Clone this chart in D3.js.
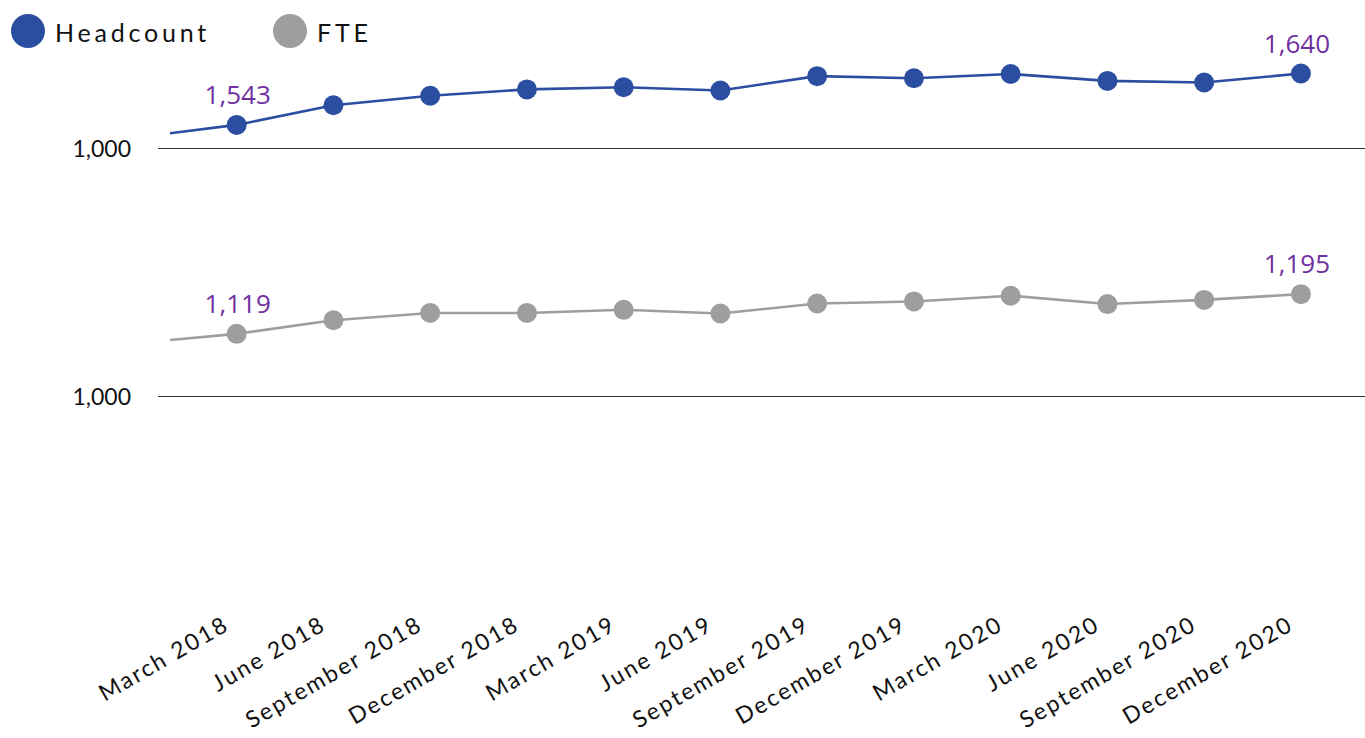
<!DOCTYPE html>
<html>
<head>
<meta charset="utf-8">
<script src="https://cdn.jsdelivr.net/npm/d3@7"></script>
<style>
  html, body { margin: 0; padding: 0; background: #fff; }
  svg { display: block; }
  .ui { font-family: "Lato", "Open Sans", sans-serif; fill: #111; }
  .val { font-family: "Open Sans", sans-serif; fill: #7030A0; }
</style>
</head>
<body>
<svg id="chart" width="1365" height="738"></svg>
<script>
// Quarter-end periods shown on the x axis
const categories = [
  "March 2018", "June 2018", "September 2018", "December 2018",
  "March 2019", "June 2019", "September 2019", "December 2019",
  "March 2020", "June 2020", "September 2020", "December 2020"
];

// Headcount per quarter, plus the quarter before the first one (line lead-in)
const headcountPrior = 1520;
const headcount = [1543, 1580, 1598, 1610, 1614, 1608, 1635, 1631, 1639, 1626, 1623, 1640];

// Full-time equivalents per quarter, plus the preceding quarter
const ftePrior = 1102;
const fte = [1119, 1145, 1159, 1159, 1165, 1158, 1177, 1181, 1192, 1176, 1184, 1195];

// Series names, value-axis ranges and the label written at each panel baseline
const seriesNames = ["Headcount", "FTE"];
const axisMins = [1500, 1000];
const axisMaxes = [1750, 1500];
const baselineLabels = ["1,000", "1,000"];

const colors = ["#2B4EA0", "#9E9E9E"];

const svg = d3.select("#chart");
const width = 1365;

const plotLeft = 158, plotRight = 1365;
const clipLeft = 170;

// x: one band per quarter, points sit at band centres
const x = d3.scaleBand()
  .domain(categories)
  .range([188.3, 1349.3]);
const xc = c => x(c) + x.bandwidth() / 2;
const step = x.step();

// Two stacked panels, each with its own value scale
const panels = [
  { name: seriesNames[0], values: headcount, prior: headcountPrior, color: colors[0],
    y: d3.scaleLinear().domain([axisMins[0], axisMaxes[0]]).range([147.7, 147.7 - 250 * 0.53]),
    tick: baselineLabels[0] },
  { name: seriesNames[1], values: fte, prior: ftePrior, color: colors[1],
    y: d3.scaleLinear().domain([axisMins[1], axisMaxes[1]]).range([396, 396 - 500 * 0.5224]),
    tick: baselineLabels[1] }
];

svg.append("defs").append("clipPath").attr("id", "plotClip")
  .append("rect").attr("x", clipLeft).attr("y", 0)
  .attr("width", width - clipLeft).attr("height", 738);

panels.forEach((p, i) => {
  const g = svg.append("g");
  const base = p.y(p.y.domain()[0]);

  // baseline axis
  g.append("line")
    .attr("x1", plotLeft).attr("x2", plotRight)
    .attr("y1", Math.round(base) + 0.5).attr("y2", Math.round(base) + 0.5)
    .attr("stroke", "#333").attr("stroke-width", 1);

  g.append("text").attr("class", "ui")
    .attr("x", 131).attr("y", base)
    .attr("text-anchor", "end")
    .attr("dominant-baseline", "central")
    .style("font-size", "23px")
    .text(p.tick);

  // line, including the lead-in from the previous quarter
  const pts = [{ xv: xc(categories[0]) - step, v: p.prior }]
    .concat(p.values.map((v, k) => ({ xv: xc(categories[k]), v })));
  const line = d3.line().x(d => d.xv).y(d => p.y(d.v));
  g.append("path")
    .attr("clip-path", "url(#plotClip)")
    .attr("d", line(pts))
    .attr("fill", "none")
    .attr("stroke", p.color)
    .attr("stroke-width", 2.6)
    .attr("stroke-linejoin", "round");

  g.selectAll("circle.pt")
    .data(p.values)
    .join("circle")
    .attr("class", "pt")
    .attr("cx", (v, k) => xc(categories[k]))
    .attr("cy", v => p.y(v))
    .attr("r", 10)
    .attr("fill", p.color);

  // value labels on first and last points
  const fmt = d3.format(",");
  [0, p.values.length - 1].forEach(k => {
    g.append("text").attr("class", "val")
      .attr("x", xc(categories[k]) - (k === 0 ? -1 : 4))
      .attr("y", p.y(p.values[k]) - 21)
      .attr("text-anchor", "middle")
      .style("font-size", "26px")
      .text(fmt(p.values[k]));
  });
});

// rotated category labels
svg.append("g").selectAll("text")
  .data(categories)
  .join("text")
  .attr("class", "ui")
  .attr("text-anchor", "end")
  .attr("transform", c => `translate(${xc(c) - 6},${629}) rotate(-30)`)
  .style("font-size", "23px")
  .style("letter-spacing", "2.2px")
  .text(c => c);

// legend
const legendX = [28, 290];
const legend = svg.append("g");
seriesNames.forEach((n, i) => {
  legend.append("circle")
    .attr("cx", legendX[i]).attr("cy", 31).attr("r", 17)
    .attr("fill", colors[i]);
  legend.append("text").attr("class", "ui")
    .attr("x", legendX[i] + 27).attr("y", 41.5)
    .style("font-size", "25px")
    .style("letter-spacing", "3.8px")
    .text(n);
});
</script>
</body>
</html>
